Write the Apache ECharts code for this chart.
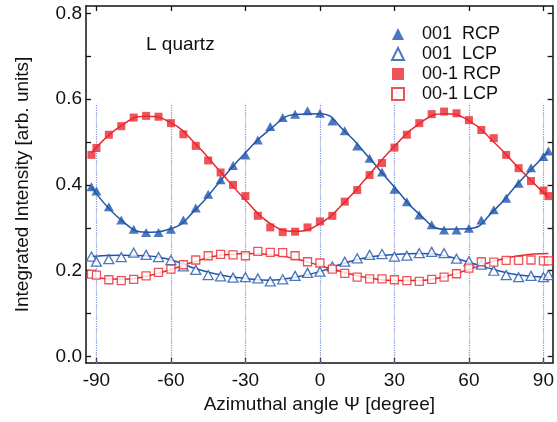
<!DOCTYPE html>
<html>
<head>
<meta charset="utf-8">
<script src="https://cdn.jsdelivr.net/npm/echarts@6/dist/echarts.min.js"></script>
<style>
  html, body { margin: 0; padding: 0; background: #fff; }
  #chart { width: 557px; height: 422px; }
</style>
</head>
<body>
<div id="chart"></div>
<script>
// measured angles (degree)
const angles = [-92, -90, -85, -80, -75, -70, -65, -60, -55, -50, -45, -40, -35, -30, -25, -20, -15, -10, -5,
  0, 5, 10, 15, 20, 25, 30, 35, 40, 45, 50, 55, 60, 65, 70, 75, 80, 85, 90, 92];

// 001 RCP (filled triangles)
const rcp001 = [0.396, 0.386, 0.349, 0.318, 0.297, 0.289, 0.289, 0.297, 0.318, 0.346, 0.378, 0.412, 0.445, 0.470, 0.505, 0.536, 0.557, 0.565, 0.573,
  0.567, 0.549, 0.526, 0.491, 0.462, 0.430, 0.390, 0.361, 0.330, 0.307, 0.295, 0.295, 0.299, 0.318, 0.342, 0.369, 0.404, 0.440, 0.466, 0.479];
// 001 LCP (open triangles)
const lcp001 = [0.233, 0.221, 0.227, 0.232, 0.242, 0.237, 0.232, 0.225, 0.210, 0.202, 0.190, 0.187, 0.184, 0.185, 0.182, 0.175, 0.180, 0.188, 0.195,
  0.198, 0.210, 0.221, 0.229, 0.237, 0.239, 0.233, 0.235, 0.241, 0.244, 0.241, 0.228, 0.222, 0.214, 0.200, 0.190, 0.185, 0.188, 0.185, 0.190];
// 00-1 RCP (filled squares)
const rcp00m1 = [0.470, 0.486, 0.517, 0.537, 0.557, 0.561, 0.559, 0.544, 0.518, 0.491, 0.457, 0.429, 0.400, 0.374, 0.328, 0.301, 0.290, 0.291, 0.301,
  0.315, 0.328, 0.361, 0.388, 0.423, 0.451, 0.487, 0.517, 0.544, 0.565, 0.571, 0.567, 0.551, 0.528, 0.509, 0.470, 0.439, 0.409, 0.387, 0.374];
// 00-1 LCP (open squares)
const lcp00m1 = [0.192, 0.190, 0.179, 0.177, 0.180, 0.188, 0.196, 0.204, 0.214, 0.225, 0.235, 0.238, 0.237, 0.235, 0.245, 0.243, 0.242, 0.235, 0.221,
  0.218, 0.204, 0.194, 0.185, 0.181, 0.181, 0.179, 0.177, 0.175, 0.180, 0.185, 0.193, 0.206, 0.221, 0.220, 0.224, 0.224, 0.225, 0.223, 0.223];

// fitted curves
const fitAngles = [-92, -80, -70, -60, -50, -40, -30, -20, -10, 0, 10, 20, 30, 40, 50, 60, 70, 80, 92];
const fitRcp001 = [0.395, 0.318, 0.290, 0.298, 0.343, 0.410, 0.475, 0.530, 0.564, 0.566, 0.525, 0.462, 0.395, 0.332, 0.297, 0.298, 0.340, 0.405, 0.478];
const fitLcp001 = [0.233, 0.236, 0.235, 0.225, 0.205, 0.190, 0.182, 0.178, 0.185, 0.198, 0.218, 0.232, 0.238, 0.240, 0.235, 0.220, 0.203, 0.190, 0.185];
const fitRcp00m1 = [0.475, 0.538, 0.560, 0.545, 0.495, 0.430, 0.365, 0.310, 0.292, 0.310, 0.360, 0.425, 0.490, 0.543, 0.566, 0.550, 0.500, 0.440, 0.370];
const fitLcp00m1 = [0.185, 0.180, 0.187, 0.203, 0.222, 0.236, 0.240, 0.238, 0.228, 0.212, 0.196, 0.183, 0.177, 0.177, 0.186, 0.203, 0.222, 0.235, 0.240];

// dotted guide lines
const guideAngles = [-90, -60, -30, 0, 30, 60, 90];
const guideTop = 0.59;

const xTicks = [-90, -60, -30, 0, 30, 60, 90];
const yTicks = [0, 0.1, 0.2, 0.3, 0.4, 0.5, 0.6, 0.7, 0.8];
const yLabels = [0, 0.2, 0.4, 0.6, 0.8];

const blue = '#2055ab';
const red = '#e8282e';
const font = 'Liberation Sans, Arial, sans-serif';
const xMin = -94.2, xMax = 93.7, yMin = -0.015, yMax = 0.817;

const pairs = (xs, ys) => xs.map((x, i) => [x, ys[i]]);

const chart = echarts.init(document.getElementById('chart'));

const frameLine = { show: true, onZero: false, lineStyle: { color: '#111', width: 1.5 } };
const tickStyle = { inside: true, length: 5, lineStyle: { color: '#111', width: 1.3 } };

chart.setOption({
  animation: false,
  title: {
    text: 'L quartz', left: 141, top: 30,
    textStyle: { fontFamily: font, fontSize: 19, fontWeight: 'normal', color: '#111' }
  },
  legend: {
    orient: 'vertical', left: 386, top: 20,
    itemWidth: 12, itemHeight: 12, itemGap: 2,
    textStyle: { fontFamily: font, fontSize: 18, lineHeight: 18, color: '#111', padding: [0, 0, 0, 13] },
    data: [
      { name: '001  RCP', icon: 'triangle' },
      { name: '001  LCP', icon: 'triangle' },
      { name: '00-1 RCP', icon: 'rect' },
      { name: '00-1 LCP', icon: 'rect' }
    ]
  },
  grid: { left: 86, right: 2, top: 6, bottom: 59 },
  xAxis: [
    {
      type: 'value', min: xMin, max: xMax, position: 'bottom',
      name: 'Azimuthal angle Ψ [degree]', nameLocation: 'middle', nameGap: 32,
      nameTextStyle: { fontFamily: font, fontSize: 19, color: '#111' },
      axisLine: frameLine,
      axisTick: Object.assign({ customValues: xTicks }, tickStyle),
      axisLabel: { customValues: xTicks, margin: 8, fontFamily: font, fontSize: 19, color: '#111' },
      splitLine: { show: false }
    },
    {
      type: 'value', min: xMin, max: xMax, position: 'top',
      axisLine: frameLine,
      axisTick: Object.assign({ customValues: xTicks }, tickStyle),
      axisLabel: { show: false },
      splitLine: { show: false }
    }
  ],
  yAxis: [
    {
      type: 'value', min: yMin, max: yMax, position: 'left',
      name: 'Integrated Intensity [arb. units]', nameLocation: 'middle', nameGap: 54,
      nameTextStyle: { fontFamily: font, fontSize: 19, color: '#111' },
      axisLine: frameLine,
      axisTick: Object.assign({ customValues: yTicks }, tickStyle),
      axisLabel: {
        customValues: yLabels, margin: 4, fontFamily: font, fontSize: 19, color: '#111',
        formatter: v => v.toFixed(1)
      },
      splitLine: { show: false }
    },
    {
      type: 'value', min: yMin, max: yMax, position: 'right',
      axisLine: frameLine,
      axisTick: Object.assign({ customValues: yTicks }, tickStyle),
      axisLabel: { show: false },
      splitLine: { show: false }
    }
  ],
  series: [
    {
      name: 'guides', type: 'line', data: [], silent: true,
      markLine: {
        silent: true, symbol: 'none', label: { show: false },
        lineStyle: { color: '#7d8fd6', type: 'dotted', width: 1.2 },
        data: guideAngles.map(a => [{ coord: [a, yMin] }, { coord: [a, guideTop] }])
      }
    },
    { name: 'fit rcp001', type: 'line', smooth: true, showSymbol: false, silent: true,
      data: pairs(fitAngles, fitRcp001), lineStyle: { color: blue, width: 1.5 } },
    { name: 'fit lcp001', type: 'line', smooth: true, showSymbol: false, silent: true,
      data: pairs(fitAngles, fitLcp001), lineStyle: { color: blue, width: 1.5 } },
    { name: 'fit rcp00m1', type: 'line', smooth: true, showSymbol: false, silent: true,
      data: pairs(fitAngles, fitRcp00m1), lineStyle: { color: red, width: 1.5 } },
    { name: 'fit lcp00m1', type: 'line', smooth: true, showSymbol: false, silent: true,
      data: pairs(fitAngles, fitLcp00m1), lineStyle: { color: red, width: 1.5 } },
    { name: '001  RCP', type: 'scatter', symbol: 'triangle', symbolSize: [10, 9], z: 5,
      data: pairs(angles, rcp001), itemStyle: { color: blue } },
    { name: '001  LCP', type: 'scatter', symbol: 'triangle', symbolSize: [10, 9], z: 5,
      data: pairs(angles, lcp001), itemStyle: { color: '#fff', borderColor: blue, borderWidth: 1.3 } },
    { name: '00-1 RCP', type: 'scatter', symbol: 'rect', symbolSize: 8, z: 5,
      data: pairs(angles, rcp00m1), itemStyle: { color: red } },
    { name: '00-1 LCP', type: 'scatter', symbol: 'rect', symbolSize: 8, z: 5,
      data: pairs(angles, lcp00m1), itemStyle: { color: '#fff', borderColor: red, borderWidth: 1.3 } }
  ]
});
</script>
</body>
</html>
